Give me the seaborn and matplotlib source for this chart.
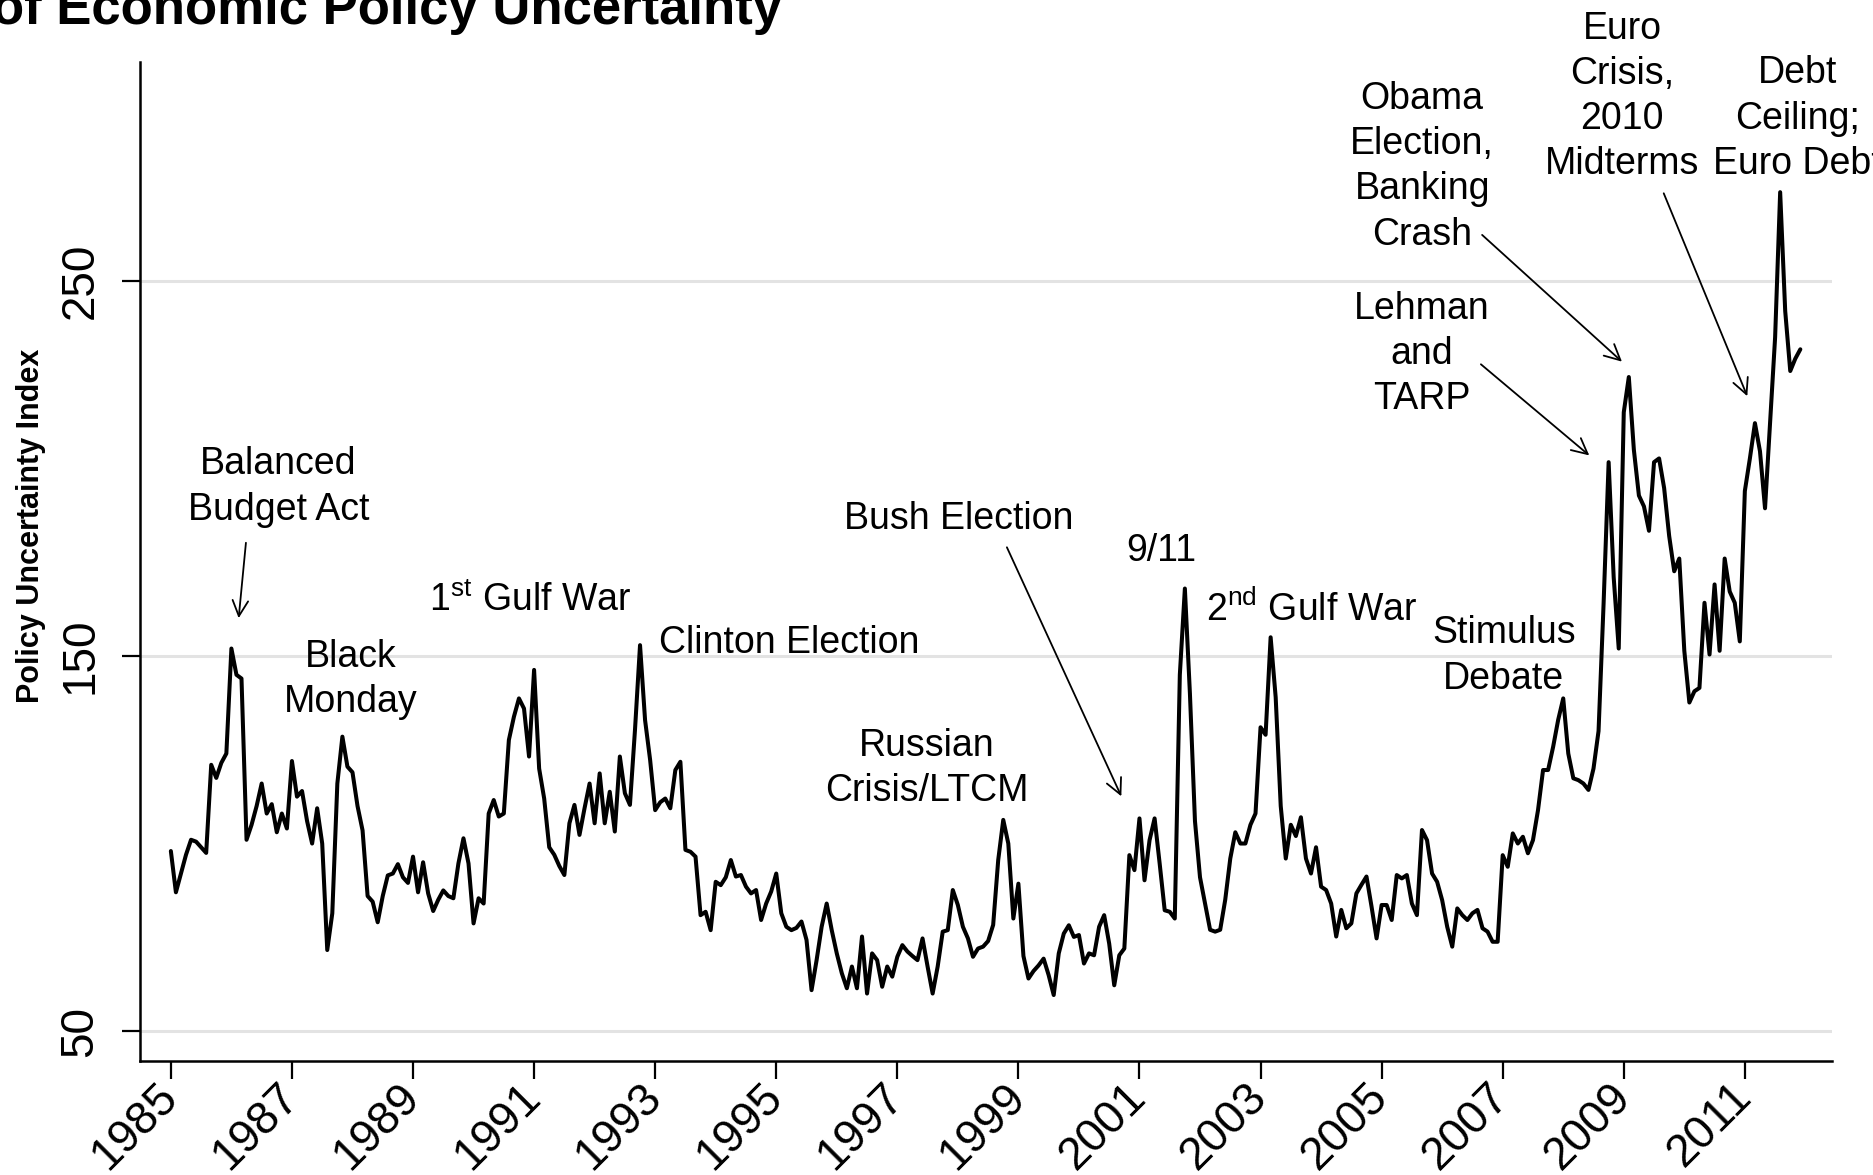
import pandas as pd
import matplotlib
matplotlib.use("Agg")
import matplotlib.pyplot as plt
import seaborn as sns

# ---------- DATA (monthly index values) ----------
EPU_1985 = [98, 87, 92, 97, 101, 100.5, 99, 97.5, 121, 117.5, 121.5, 124]
EPU_1986 = [152, 145, 144, 101, 105, 110, 116, 108, 110.5, 103, 108, 104]
EPU_1987 = [122, 112.5, 114, 106, 100, 109.4, 100, 71.6, 81.4, 116, 128.5, 120.5]
EPU_1988 = [119, 110, 103.5, 86, 84.5, 79, 86, 91.5, 92, 94.5, 91, 89.5]
EPU_1989 = [96.5, 87, 95, 86.7, 82, 85, 87.5, 86, 85.4, 94.7, 101.4, 94.7]
EPU_1990 = [78.7, 85.4, 84, 108, 111.6, 107.2, 108, 127.6, 133.8, 138.7, 136, 123.2]
EPU_1991 = [146.3, 120, 112, 99, 97, 94, 91.6, 105.4, 110.3, 102.3, 109.4, 116]
EPU_1992 = [105.4, 118.7, 105.4, 113.8, 103.2, 123.2, 113.4, 110.3, 130.3, 152.9, 132.9, 122.3]
EPU_1993 = [108.9, 111, 112, 109.4, 119.6, 121.8, 98.3, 97.8, 96.5, 80.9, 81.8, 76.9]
EPU_1994 = [89.8, 88.9, 91, 95.6, 91.2, 91.6, 88.5, 86.7, 87.6, 79.6, 84, 87.2]
EPU_1995 = [92, 81.4, 77.8, 76.9, 77.5, 79.2, 74.3, 60.9, 68.9, 77.8, 84, 76.9]
EPU_1996 = [70.7, 65.4, 61.4, 67.2, 61.4, 75.2, 60, 70.7, 68.9, 61.8, 67.2, 64.5]
EPU_1997 = [69.8, 72.9, 71.2, 70, 68.9, 74.7, 67.2, 60, 67.2, 76.5, 76.9, 87.6]
EPU_1998 = [83.6, 77.8, 74.7, 69.8, 72, 72.5, 74, 78.3, 95.6, 106.3, 100, 80]
EPU_1999 = [89.3, 70, 64, 66, 67.5, 69.3, 64.9, 59.6, 70.7, 76, 78.2, 75.1]
EPU_2000 = [75.6, 68, 70.7, 70.2, 77.8, 80.9, 73.3, 62.2, 70.2, 72, 96.9, 92.9]
EPU_2001 = [106.7, 90.2, 100.9, 106.7, 94.7, 82.2, 81.8, 80, 145, 168, 140, 106]
EPU_2002 = [91, 84, 77, 76.5, 77, 85, 96, 103, 100, 100, 105, 108]
EPU_2003 = [131, 129, 155, 139, 110, 96, 105, 102, 107, 96, 92, 99]
EPU_2004 = [88.5, 87.6, 84, 75.2, 82.3, 77.4, 78.7, 86.7, 89, 91.2, 83.2, 74.7]
EPU_2005 = [83.6, 83.6, 79.6, 91.6, 90.7, 91.6, 84, 80.9, 103.6, 100.9, 92, 89.8]
EPU_2006 = [84.9, 77.8, 72.5, 82.7, 80.9, 79.6, 81.4, 82.3, 77.4, 76.5, 73.8, 73.8]
EPU_2007 = [96.9, 93.8, 102.7, 100, 101.8, 97.4, 100.9, 108.9, 119.6, 119.6, 125.8, 133]
EPU_2008 = [138.7, 124, 117.4, 116.9, 116, 114.3, 120, 130, 164, 201.7, 171, 152]
EPU_2009 = [215, 224.4, 205, 192.8, 189.9, 183.4, 201.7, 202.7, 194.8, 182, 172.6, 176]
EPU_2010 = [151.4, 137.6, 140.6, 141.5, 164.2, 150.4, 169.1, 151.4, 176, 167.2, 164.2, 153.9]
EPU_2011 = [194, 202.7, 212.1, 204.6, 189.4, 212, 235, 273.7, 242, 226, 229.3, 231.8]

YEAR_TICKS = list(range(1985, 2012, 2))
Y_TICKS = [50, 150, 250]

EVENT_LABELS = [
    "Balanced\nBudget Act",
    "Black\nMonday",
    r"1$^{\mathrm{st}}$ Gulf War",
    "Clinton Election",
    "Russian\nCrisis/LTCM",
    "Bush Election",
    "9/11",
    r"2$^{\mathrm{nd}}$ Gulf War",
    "Stimulus\nDebate",
    "Lehman\nand\nTARP",
    "Obama\nElection,\nBanking\nCrash",
    "Euro\nCrisis,\n2010\nMidterms",
    "Debt\nCeiling;\nEuro Debt",
]
# ---------------------------------------------------------------------

yearly = [EPU_1985, EPU_1986, EPU_1987, EPU_1988, EPU_1989, EPU_1990, EPU_1991,
          EPU_1992, EPU_1993, EPU_1994, EPU_1995, EPU_1996, EPU_1997, EPU_1998,
          EPU_1999, EPU_2000, EPU_2001, EPU_2002, EPU_2003, EPU_2004, EPU_2005,
          EPU_2006, EPU_2007, EPU_2008, EPU_2009, EPU_2010, EPU_2011]
values = [v for year in yearly for v in year]
dates = pd.date_range("1985-01-01", periods=len(values), freq="MS")
df = pd.DataFrame({"date": dates, "epu": values})
df["t"] = df["date"].dt.year + (df["date"].dt.month - 1) / 12

sns.set_theme(style="white")
plt.rcParams["font.family"] = ["Liberation Sans", "DejaVu Sans"]
plt.rcParams["mathtext.fontset"] = "custom"
plt.rcParams["mathtext.rm"] = "Liberation Sans"
plt.rcParams["mathtext.it"] = "Liberation Sans:italic"
plt.rcParams["mathtext.bf"] = "Liberation Sans:bold"

fig = plt.figure(figsize=(18.74, 11.75), dpi=100)
ax = fig.add_axes([0.0747, 0.0970, 0.9029, 0.8502])

sns.lineplot(data=df, x="t", y="epu", color="black", lw=2.9, ax=ax, zorder=3)

ax.set_xlim(1984.49, 2012.44)
ax.set_ylim(42, 308.4)
ax.grid(axis="y", color="#e3e3e3", lw=2.2)
ax.grid(axis="x", visible=False)
ax.set_axisbelow(True)

sns.despine(ax=ax)
for side in ["left", "bottom"]:
    ax.spines[side].set_color("black")
    ax.spines[side].set_linewidth(1.8)

ax.set_xticks(YEAR_TICKS)
ax.set_xticklabels([str(y) for y in YEAR_TICKS])
ax.set_yticks(Y_TICKS)
ax.set_yticklabels([str(y) for y in Y_TICKS])
ax.tick_params(axis="both", direction="out", length=13, width=1.6, color="black",
               labelcolor="black", left=True, bottom=True)
ax.tick_params(axis="x", labelsize=33, pad=8)
ax.tick_params(axis="y", labelsize=33, pad=14)
for lbl in ax.get_xticklabels():
    lbl.set_rotation(45)
    lbl.set_ha("right")
    lbl.set_va("center")
    lbl.set_rotation_mode("anchor")
for lbl in ax.get_yticklabels():
    lbl.set_rotation(90)
    lbl.set_ha("right")
    lbl.set_va("center")

ax.set_xlabel("")
ax.set_ylabel("")
fig.text(31 / 1874, 1 - 526 / 1175, "Policy Uncertainty Index", rotation=90,
         fontsize=22, fontweight="bold", ha="center", va="center", color="black")

fig.text(-8 / 1874, 1 - 24 / 1175, "of Economic Policy Uncertainty",
         fontsize=38, fontweight="bold", ha="left", va="baseline", color="black")

# label placement (year, index level)
label_pos = [
    (1986.78, 195.1, "center"),
    (1987.97, 143.7, "center"),
    (1990.94, 164.7, "center"),
    (1993.07, 153.6, "left"),
    (1997.48, 120.1, "center"),
    (1998.01, 186.6, "center"),
    (2001.36, 178.0, "center"),
    (2003.85, 162.2, "center"),
    (2007.02, 150.0, "center"),
    (2005.67, 230.5, "center"),
    (2005.67, 280.5, "center"),
    (2008.97, 299.2, "center"),
    (2011.87, 293.3, "center"),
]
for label, (x, y, ha) in zip(EVENT_LABELS, label_pos):
    ax.text(x, y, label, fontsize=27, ha=ha, va="center", multialignment="center",
            linespacing=1.33, color="black")

# arrows: (tail, head)
arrows = [
    ((1986.24, 180.2), (1986.12, 160.1)),
    ((1998.81, 179.0), (2000.70, 112.6)),
    ((2006.64, 227.8), (2008.43, 203.5)),
    ((2006.66, 262.3), (2008.97, 228.5)),
    ((2009.66, 273.4), (2011.04, 219.3)),
]
for tail, head in arrows:
    ax.annotate("", xy=head, xytext=tail,
                arrowprops=dict(arrowstyle="->", color="black", lw=1.3,
                                mutation_scale=28, shrinkA=0, shrinkB=0))

fig.savefig("out.png", dpi=100)
